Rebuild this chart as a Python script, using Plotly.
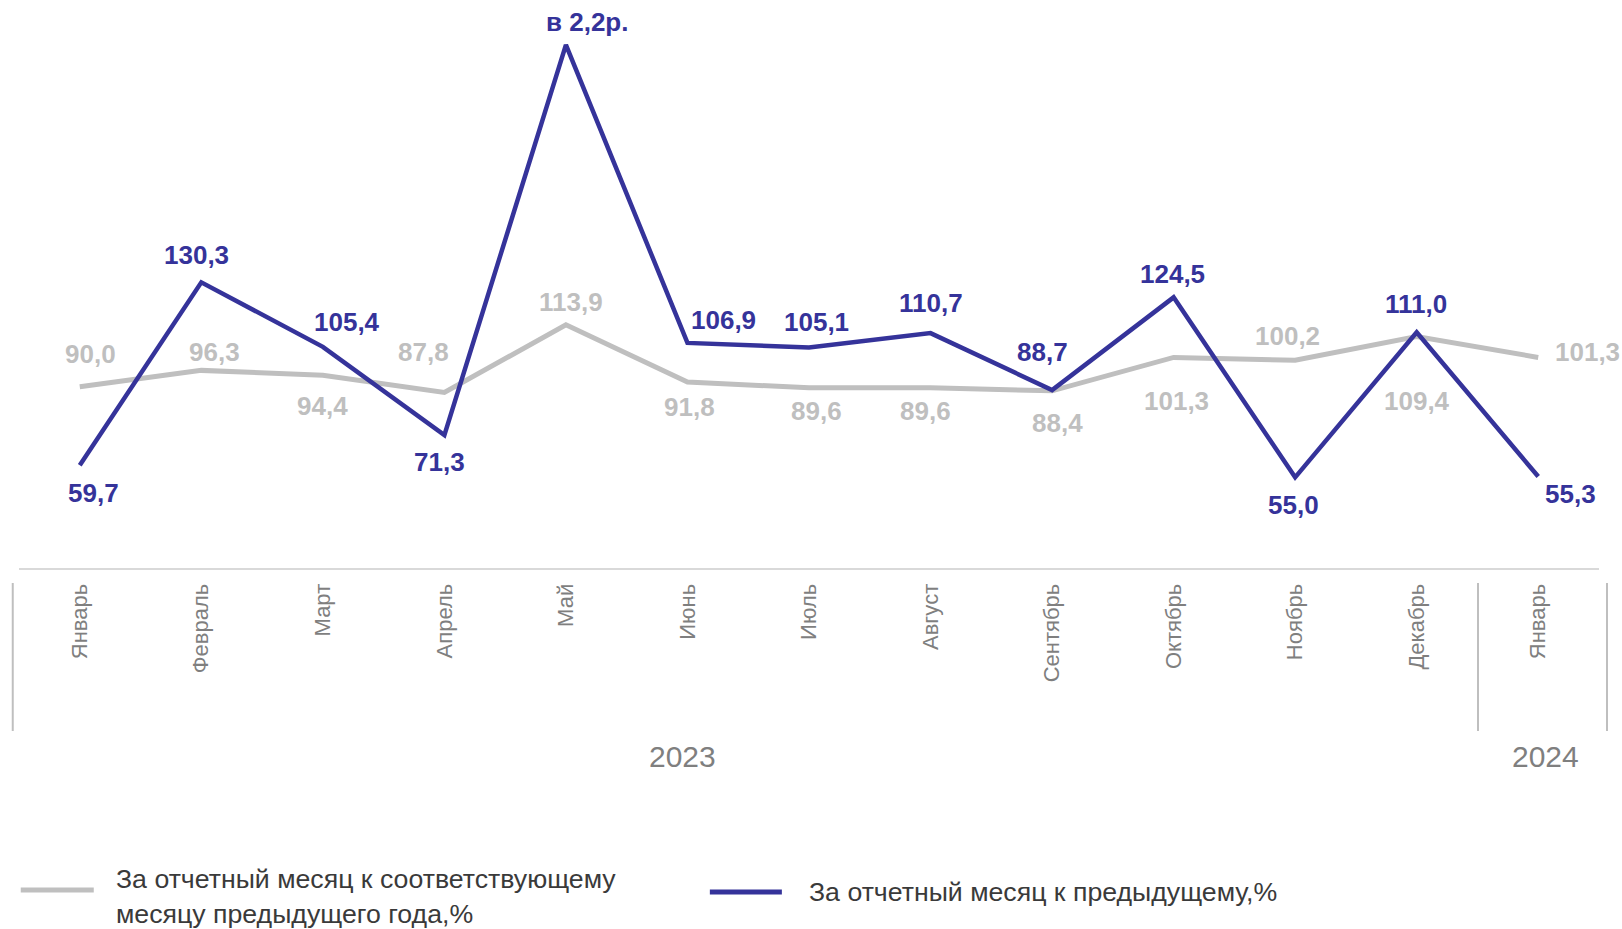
import plotly.graph_objects as go

# ---- data ----
months = ["Январь", "Февраль", "Март", "Апрель", "Май", "Июнь", "Июль",
          "Август", "Сентябрь", "Октябрь", "Ноябрь", "Декабрь", "Январь"]
years = ["2023", "2024"]
prev_month = [59.7, 130.3, 105.4, 71.3, 222.0, 106.9, 105.1, 110.7, 88.7, 124.5, 55.0, 111.0, 55.3]
prev_month_labels = ["59,7", "130,3", "105,4", "71,3", "в 2,2р.", "106,9", "105,1",
                     "110,7", "88,7", "124,5", "55,0", "111,0", "55,3"]
prev_year = [90.0, 96.3, 94.4, 87.8, 113.9, 91.8, 89.6, 89.6, 88.4, 101.3, 100.2, 109.4, 101.3]
prev_year_labels = ["90,0", "96,3", "94,4", "87,8", "113,9", "91,8", "89,6",
                    "89,6", "88,4", "101,3", "100,2", "109,4", "101,3"]
series_names = ["За отчетный месяц к соответствующему<br>месяцу предыдущего года,%",
                "За отчетный месяц к предыдущему,%"]

# ---- styles / label offsets (pixels) ----
BLUE = "#35339A"
GRAY = "#BFBFBF"
TXT = "#7F7F7F"
blue_off = [(14, 28), (-5, -27), (24, -25), (-5, 27), (21, -23), (36, -23), (7, -26),
            (0, -30), (-10, -38), (-1, -23), (-2, 28), (-1, -28), (32, 17)]
gray_off = [(11, -33), (13, -18), (0, 31), (-21, -40), (5, -23), (2, 25), (7, 23),
            (-5, 23), (5, 32), (3, 44), (-8, -24), (0, 65), (49, -5)]

xs = list(range(len(months)))

fig = go.Figure()
fig.add_trace(go.Scatter(x=xs, y=prev_year, mode="lines",
                         line=dict(color=GRAY, width=5), name=series_names[0],
                         showlegend=False))
fig.add_trace(go.Scatter(x=xs, y=prev_month, mode="lines",
                         line=dict(color=BLUE, width=4.5), name=series_names[1],
                         showlegend=False))

LBL_FAMILY = "Liberation Sans, Arial"
ann = []
for i, (v, t) in enumerate(zip(prev_year, prev_year_labels)):
    dx, dy = gray_off[i]
    ann.append(dict(x=xs[i], y=v, xref="x", yref="y", text=t, showarrow=False,
                    xanchor="center", yanchor="middle", xshift=dx, yshift=-dy,
                    font=dict(family=LBL_FAMILY, size=26, color=GRAY, weight="bold")))
for i, (v, t) in enumerate(zip(prev_month, prev_month_labels)):
    dx, dy = blue_off[i]
    ann.append(dict(x=xs[i], y=v, xref="x", yref="y", text=t, showarrow=False,
                    xanchor="center", yanchor="middle", xshift=dx, yshift=-dy,
                    font=dict(family=LBL_FAMILY, size=26, color=BLUE, weight="bold")))

# plot area geometry (px) used for paper-coordinate helpers
L, R, T, B = 19.25, 1599.0, 5.0, 568.0
W, H = R - L, B - T


def px(xp):
    return (xp - L) / W


def py(yp):
    return (B - yp) / H


# year labels
for name, cx in zip(years, [683, 1546]):
    ann.append(dict(x=px(cx), y=py(756), xref="paper", yref="paper", text=name,
                    showarrow=False, xanchor="center", yanchor="middle",
                    font=dict(family=LBL_FAMILY, size=30, color=TXT)))

# legend texts
LEG_FONT = dict(family=LBL_FAMILY, size=26.7, color="#3A3A3A")
ann.append(dict(x=px(114), y=py(896), xref="paper", yref="paper", text=series_names[0],
                showarrow=False, xanchor="left", yanchor="middle", align="left", font=LEG_FONT))
ann.append(dict(x=px(807), y=py(892), xref="paper", yref="paper", text=series_names[1],
                showarrow=False, xanchor="left", yanchor="middle", align="left", font=LEG_FONT))

shapes = [
    # group dividers
    dict(type="line", xref="paper", yref="paper", x0=px(13), x1=px(13), y0=py(583), y1=py(731),
         line=dict(color=GRAY, width=2)),
    dict(type="line", xref="paper", yref="paper", x0=px(1478), x1=px(1478), y0=py(583), y1=py(731),
         line=dict(color=GRAY, width=2)),
    dict(type="line", xref="paper", yref="paper", x0=px(1607), x1=px(1607), y0=py(583), y1=py(731),
         line=dict(color=GRAY, width=2)),
    # legend keys
    dict(type="line", xref="paper", yref="paper", x0=px(21), x1=px(94), y0=py(890), y1=py(890),
         line=dict(color=GRAY, width=5)),
    dict(type="line", xref="paper", yref="paper", x0=px(710), x1=px(782), y0=py(892), y1=py(892),
         line=dict(color=BLUE, width=5)),
]

fig.update_layout(
    width=1622, height=929,
    margin=dict(l=L, r=1622 - R, t=T, b=929 - B),
    paper_bgcolor="white", plot_bgcolor="white",
    showlegend=False,
    annotations=ann, shapes=shapes,
    xaxis=dict(range=[-0.5, 12.5], tickmode="array", tickvals=xs, ticktext=months,
               tickangle=-90, showgrid=False, zeroline=False, showline=True,
               linecolor="#D9D9D9", linewidth=2, ticks="", ticklabelstandoff=5,
               tickfont=dict(family=LBL_FAMILY, size=22, color=TXT)),
    yaxis=dict(range=[20, 20 + H / 2.59], visible=False, showgrid=False, zeroline=False),
)

fig.write_html("out.html", config={"displayModeBar": False},
               post_script="document.body.style.margin='0px';document.body.style.overflow='hidden';")
